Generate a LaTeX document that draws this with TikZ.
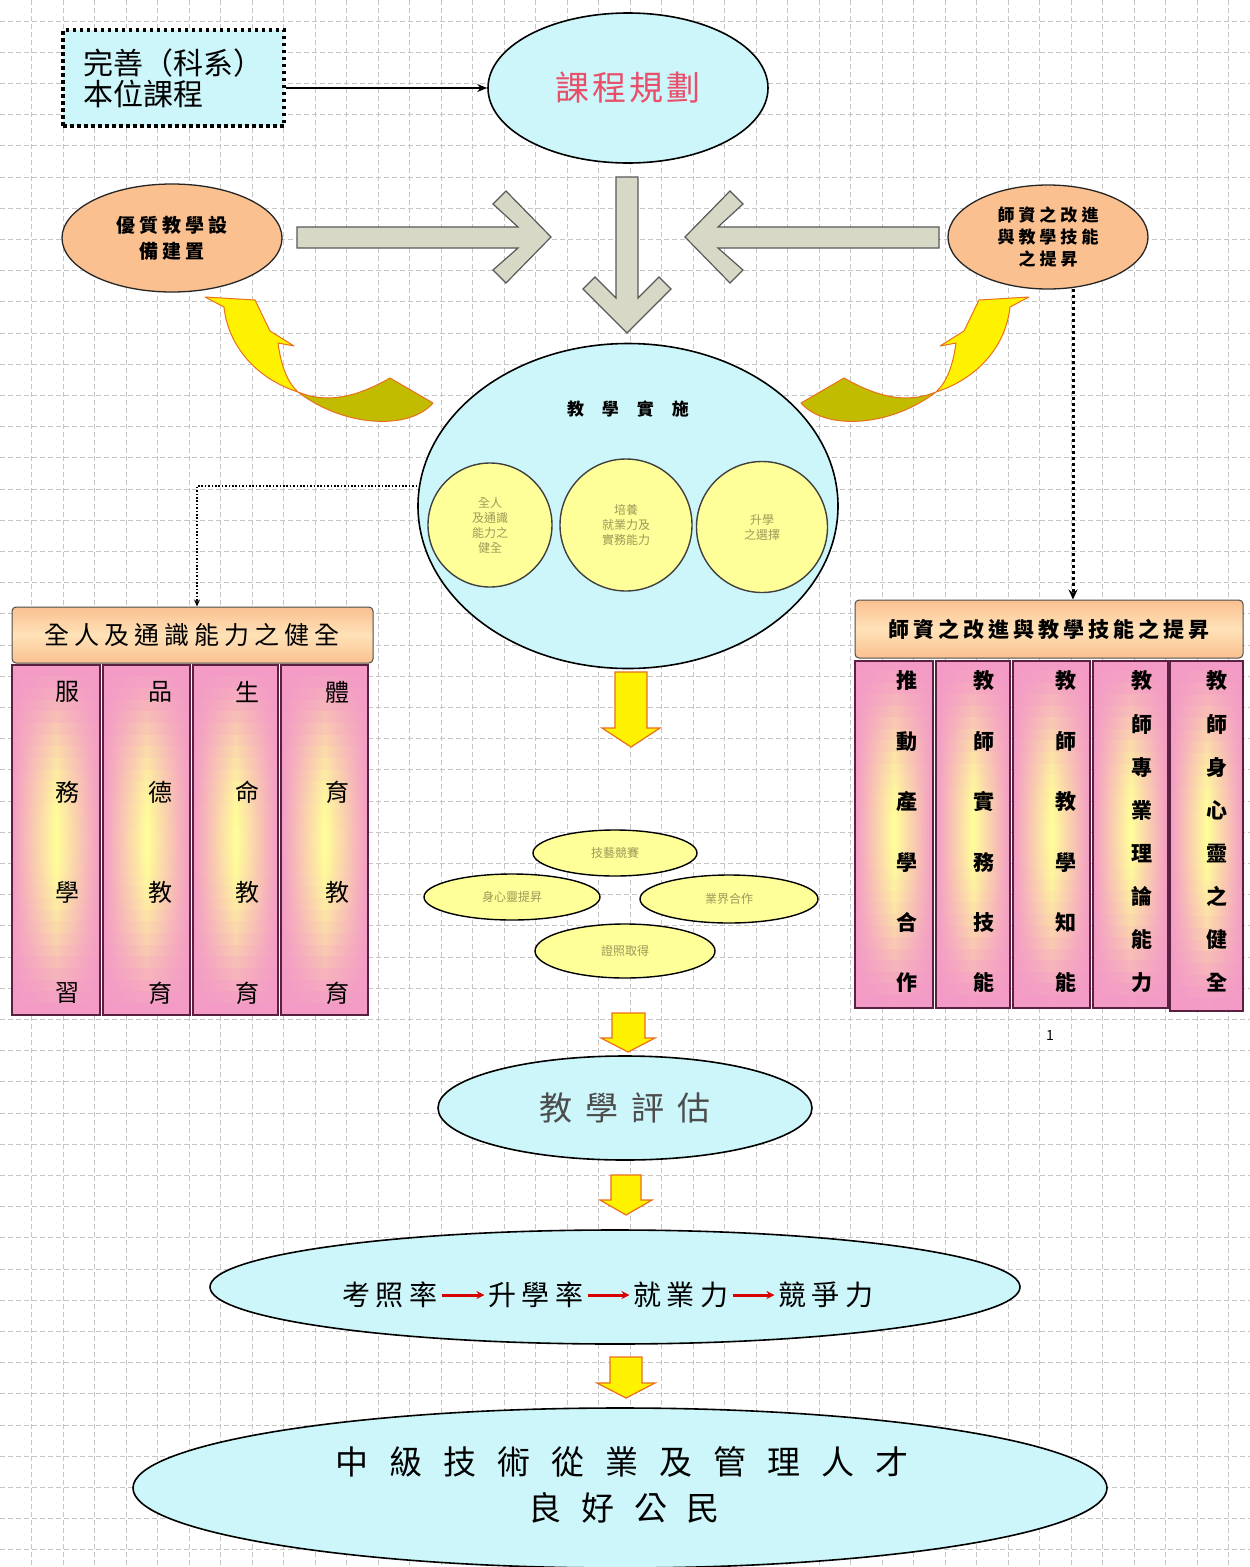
\documentclass[tikz,border=0pt]{standalone}
\usepackage{fontspec}
\setmainfont{Noto Sans CJK TC}
\usetikzlibrary{shapes.geometric, arrows.meta}
\definecolor{cyanfill}{HTML}{CCF6FA}
\definecolor{peach}{HTML}{FAC090}
\definecolor{peachlt}{HTML}{FFE2B8}
\definecolor{pinkc}{HTML}{F39AC6}
\definecolor{lyellow}{HTML}{FFFF99}
\definecolor{grayarrow}{HTML}{D8D8C6}
\definecolor{olivetext}{HTML}{9A9A5A}
\definecolor{titlered}{HTML}{E8506A}
\definecolor{arroworange}{HTML}{E8701A}
\definecolor{olivetail}{HTML}{C2BC00}
\definecolor{colborder}{HTML}{5A2040}
\newcommand{\LS}[2]{\foreach \c [count=\n] in {#2}{\ifnum\n>1\hspace{#1}\fi\c}}
% gradient column: x0, y0, w, h
\newcommand{\gradcol}[4]{%
  \foreach \s in {0,...,29}{%
    \pgfmathsetmacro\pp{100*(1-(2*(\s+0.5)/30-1)^2)^1.5}%
    \path[left color=pinkc, right color=pinkc, middle color=lyellow!\pp!pinkc]
      (#1,{#2+\s*#4/30}) rectangle ({#1+#3},{#2+(\s+1)*#4/30+0.8});
  }}
\tikzset{
  gridl/.style={draw=gray!45, line width=0.7pt, dash pattern=on 5pt off 3pt},
  cyanell/.style={ellipse, draw=black, line width=1.6pt, fill=cyanfill, inner sep=0pt, align=center},
  peachell/.style={ellipse, draw=black!85, line width=1.3pt, fill=peach, inner sep=0pt, align=center},
  ycirc/.style={circle, draw=black!75, line width=1.4pt, fill=lyellow, inner sep=0pt, align=center, text=olivetext, font=\fontsize{12}{15}\selectfont},
  yell/.style={ellipse, draw=black, line width=1.4pt, fill=lyellow, inner sep=0pt, text=olivetext, font=\fontsize{12}{14}\selectfont},
  header/.style={rectangle, rounded corners=4pt, draw=black!70, line width=1pt, top color=peach, bottom color=peach, middle color=peachlt, inner sep=0pt},
  colframe/.style={rectangle, draw=colborder, line width=1.6pt, inner sep=0pt},
  lch/.style={font=\fontsize{24}{24}\selectfont},
  rch/.style={font=\bfseries\fontsize{21}{21}\selectfont},
  grayarr/.style={fill=grayarrow, draw=black!65, line width=1.2pt, line join=miter},
  yarr/.style={fill=yellow, draw=arroworange, line width=1.2pt, line join=miter},
  curvedge/.style={draw=arroworange, line width=1pt, line join=round},
  thickdots/.style={draw=black, line width=3pt, dash pattern=on 3pt off 3pt, -{Stealth[length=10pt,width=9pt]}},
  thindots/.style={draw=black, line width=1.4pt, dash pattern=on 1.6pt off 1.8pt, -{Stealth[length=7pt,width=6pt]}},
  redarr/.style={draw=red!85!black, line width=3pt, -{Stealth[length=8pt,width=8pt]}}
}
\begin{document}
\begin{tikzpicture}[x=1pt,y=-1pt]
\useasboundingbox (0,0) rectangle (1250,1567);
\fill[white] (0,0) rectangle (1250,1567);
% grid
\foreach \i in {1,...,39} \draw[gridl] (31.5*\i,0) -- (31.5*\i,1567);
\foreach \j in {0,...,49} \draw[gridl] (0,21+31.2*\j) -- (1250,21+31.2*\j);

% top-left dotted box
\node[rectangle, draw=black, fill=cyanfill, line width=3.5pt, dash pattern=on 3.5pt off 3.5pt,
      minimum width=221pt, minimum height=96pt, text width=180pt, align=left, inner sep=0pt,
      font=\fontsize{30}{31}\selectfont] (tlbox) at (173.5,78) {完善（科系）\\本位課程};

% planning ellipse
\node[cyanell, minimum width=280pt, minimum height=150pt, text=titlered,
      font=\fontsize{34}{34}\selectfont] (plan) at (628,88) {\LS{3pt}{課,程,規,劃}};
\draw[black, line width=1.6pt, -{Stealth[length=10pt,width=8pt]}] (tlbox.east |- plan.west) -- (plan.west);

% side ellipses
\node[peachell, minimum width=220pt, minimum height=108pt, font=\bfseries\fontsize{19}{26}\selectfont]
  (equip) at (172,238) {\LS{4pt}{優,質,教,學,設}\\\LS{4pt}{備,建,置}};
\node[peachell, minimum width=200pt, minimum height=104pt, font=\bfseries\fontsize{17}{22}\selectfont]
  (tea) at (1048,237) {\LS{4pt}{師,資,之,改,進}\\\LS{4pt}{與,教,學,技,能}\\\LS{4pt}{之,提,昇}};

% gray arrows
\draw[grayarr] (297,227) -- (518,227) -- (493,204) -- (506,191) -- (551,237) -- (506,283) -- (493,270) -- (518,248) -- (297,248) -- cycle;
\draw[grayarr] (939,227) -- (718,227) -- (743,204) -- (730,191) -- (685,237) -- (730,283) -- (743,270) -- (718,248) -- (939,248) -- cycle;
\draw[grayarr] (616,177) -- (638,177) -- (638,298) -- (659,277) -- (671,289) -- (627,333) -- (583,289) -- (595,277) -- (616,298) -- cycle;

% curved yellow arrows (left)
\fill[olivetail] (298,392) .. controls (330,405) and (360,395) .. (390,378) -- (433,403) .. controls (410,430) and (345,428) .. (298,392) -- cycle;
\draw[curvedge] (298,392) .. controls (330,405) and (360,395) .. (390,378) -- (433,403) .. controls (410,430) and (345,428) .. (298,392);
\fill[yellow] (205,297) -- (255,300) -- (270,331) -- (294,346) -- (278,343) .. controls (281,365) and (287,382) .. (298,392) .. controls (255,378) and (228,345) .. (224,307) -- cycle;
\draw[curvedge] (205,297) -- (255,300) -- (270,331) -- (294,346) -- (278,343) .. controls (281,365) and (287,382) .. (298,392) .. controls (255,378) and (228,345) .. (224,307) -- cycle;
% curved yellow arrows (right, mirrored)
\begin{scope}[xshift=1234pt, xscale=-1]
\fill[olivetail] (298,392) .. controls (330,405) and (360,395) .. (390,378) -- (433,403) .. controls (410,430) and (345,428) .. (298,392) -- cycle;
\draw[curvedge] (298,392) .. controls (330,405) and (360,395) .. (390,378) -- (433,403) .. controls (410,430) and (345,428) .. (298,392);
\fill[yellow] (205,297) -- (255,300) -- (270,331) -- (294,346) -- (278,343) .. controls (281,365) and (287,382) .. (298,392) .. controls (255,378) and (228,345) .. (224,307) -- cycle;
\draw[curvedge] (205,297) -- (255,300) -- (270,331) -- (294,346) -- (278,343) .. controls (281,365) and (287,382) .. (298,392) .. controls (255,378) and (228,345) .. (224,307) -- cycle;
\end{scope}

% teaching implementation circle
\node[cyanell, minimum width=420pt, minimum height=325pt] (inst) at (628,506) {};
\node[font=\bfseries\fontsize{17}{17}\selectfont] (instt) at (628,409) {\LS{18pt}{教,學,實,施}};
\node[ycirc, minimum size=124pt] (c1) at (490,525) {全人\\及通識\\能力之\\健全};
\node[ycirc, minimum size=132pt] (c2) at (626,525) {培養\\就業力及\\實務能力};
\node[ycirc, minimum size=131pt] (c3) at (762,527) {升學\\之選擇};

% left group
\node[header, minimum width=361pt, minimum height=56pt, font=\fontsize{25}{25}\selectfont] (Lhead) at (192.5,635) {\LS{5pt}{全,人,及,通,識,能,力,之,健,全}};
\foreach \nm/\cx/\w in {L1/56/88, L2/146.5/87, L3/235.5/85, L4/324.5/87} {
  \pgfmathsetmacro\xo{\cx-\w/2}
  \gradcol{\xo}{665}{\w}{350}
  \node[colframe, minimum width=\w pt, minimum height=350pt] (\nm) at (\cx,840) {};
}
\foreach \c [count=\i] in {服,務,學,習} \node[lch] at (67,{692+100.3*(\i-1)}) {\c};
\foreach \c [count=\i] in {品,德,教,育} \node[lch] at (160,{692+100.3*(\i-1)}) {\c};
\foreach \c [count=\i] in {生,命,教,育} \node[lch] at (247,{692+100.3*(\i-1)}) {\c};
\foreach \c [count=\i] in {體,育,教,育} \node[lch] at (337,{692+100.3*(\i-1)}) {\c};

% right group
\node[header, minimum width=388pt, minimum height=58pt, font=\bfseries\fontsize{21}{21}\selectfont] (Rhead) at (1049,629) {\LS{4pt}{師,資,之,改,進,與,教,學,技,能,之,提,昇}};
\foreach \nm/\cx/\w/\h in {R1/894/78/347, R2/973/74/347, R3/1051.5/77/347, R4/1130.5/75/347, R5/1206.5/73/350} {
  \pgfmathsetmacro\xo{\cx-\w/2}
  \gradcol{\xo}{660}{\w}{\h}
  \node[colframe, minimum width=\w pt, minimum height=\h pt, anchor=north] (\nm) at (\cx,660) {};
}
\foreach \c [count=\i] in {推,動,產,學,合,作} \node[rch] at (907,{681+60.4*(\i-1)}) {\c};
\foreach \c [count=\i] in {教,師,實,務,技,能} \node[rch] at (984,{681+60.4*(\i-1)}) {\c};
\foreach \c [count=\i] in {教,師,教,學,知,能} \node[rch] at (1066,{681+60.4*(\i-1)}) {\c};
\foreach \c [count=\i] in {教,師,專,業,理,論,能,力} \node[rch] at (1142,{681+43.1*(\i-1)}) {\c};
\foreach \c [count=\i] in {教,師,身,心,靈,之,健,全} \node[rch] at (1217,{681+43.1*(\i-1)}) {\c};
\node[font=\fontsize{14}{14}\selectfont] (pgno) at (1050,1035) {1};

% dotted connectors
\coordinate (lcorner) at (197,486);
\draw[thindots] (inst.west |- lcorner) -- (lcorner) -- (lcorner |- Lhead.north);
\coordinate (rtop) at (1073,289);
\draw[thickdots] (rtop) -- (rtop |- Rhead.north);

% yellow arrow 1
\draw[yarr] (615,672) -- (647,672) -- (647,728) -- (660,728) -- (631,747) -- (602,728) -- (615,728) -- cycle;

% four small ellipses
\node[yell, minimum width=164pt, minimum height=46pt] (s1) at (615,853) {技藝競賽};
\node[yell, minimum width=176pt, minimum height=46pt] (s2) at (512,897) {身心靈提昇};
\node[yell, minimum width=178pt, minimum height=48pt] (s3) at (729,899) {業界合作};
\node[yell, minimum width=180pt, minimum height=54pt] (s4) at (625,951) {證照取得};

% yellow arrow 2
\draw[yarr] (612,1013) -- (645,1013) -- (645,1038) -- (655,1038) -- (628,1052) -- (601,1038) -- (612,1038) -- cycle;

% evaluation
\node[cyanell, minimum width=374pt, minimum height=104pt, text=black!70, font=\fontsize{33}{33}\selectfont] (eval) at (625,1108) {\LS{13pt}{教,學,評,估}};

% yellow arrow 3
\draw[yarr] (611,1175) -- (641,1175) -- (641,1200) -- (652,1200) -- (626,1215) -- (600,1200) -- (611,1200) -- cycle;

% rates ellipse
\node[cyanell, minimum width=810pt, minimum height=114pt] (rate) at (615,1287) {};
\node[font=\fontsize{28}{28}\selectfont] (k1) at (390,1295) {\LS{6pt}{考,照,率}};
\node[font=\fontsize{28}{28}\selectfont] (k2) at (536,1295) {\LS{6pt}{升,學,率}};
\node[font=\fontsize{28}{28}\selectfont] (k3) at (681,1295) {\LS{6pt}{就,業,力}};
\node[font=\fontsize{28}{28}\selectfont] (k4) at (826,1295) {\LS{6pt}{競,爭,力}};
\draw[redarr] (k1.east) -- (k2.west);
\draw[redarr] (k2.east) -- (k3.west);
\draw[redarr] (k3.east) -- (k4.west);

% yellow arrow 4
\draw[yarr] (610,1357) -- (642,1357) -- (642,1383) -- (655,1383) -- (626,1398) -- (597,1383) -- (610,1383) -- cycle;

% goal ellipse
\node[cyanell, minimum width=974pt, minimum height=160pt] (goal) at (620,1488) {};
\node[font=\fontsize{33}{33}\selectfont] (g1) at (622,1462) {\LS{21pt}{中,級,技,術,從,業,及,管,理,人,才}};
\node[font=\fontsize{33}{33}\selectfont] (g2) at (624,1508) {\LS{20pt}{良,好,公,民}};
\end{tikzpicture}
\end{document}
